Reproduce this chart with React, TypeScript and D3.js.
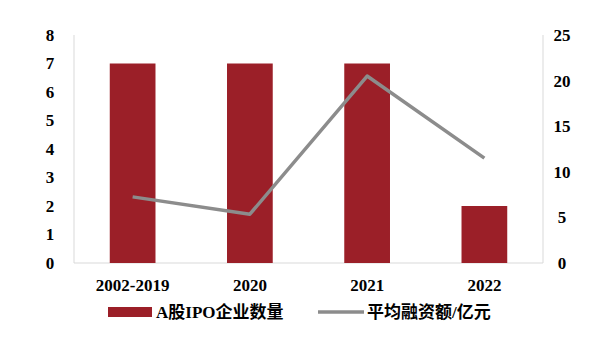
import React from 'react';
import * as d3 from 'd3';

const categories = ['2002-2019', '2020', '2021', '2022'];
const ipoCounts = [7, 7, 7, 2];
const avgFunding = [7.25, 5.35, 20.5, 11.5];
const leftTicks = [0, 1, 2, 3, 4, 5, 6, 7, 8];
const rightTicks = [0, 5, 10, 15, 20, 25];

const W = 606;
const H = 354;
const margin = { top: 35, right: 63, bottom: 91, left: 74 };
const BAR = '#9b1f28';
const LINE = '#8c8c8c';
const FONT = '"Liberation Serif", "Times New Roman", "Noto Sans CJK SC", serif';

export default function App() {
  const innerW = W - margin.left - margin.right;
  const innerH = H - margin.top - margin.bottom;

  const x = d3.scaleBand().domain(categories).range([0, innerW]).paddingInner(0.61).paddingOuter(0.305);
  const yL = d3.scaleLinear().domain([0, 8]).range([innerH, 0]);
  const yR = d3.scaleLinear().domain([0, 25]).range([innerH, 0]);
  const cx = (c: string) => (x(c) ?? 0) + x.bandwidth() / 2;

  const line = d3.line<number>()
    .x((_, i) => cx(categories[i]))
    .y(d => yR(d));

  return (
    <svg width={W} height={H} style={{ position: 'absolute', left: 0, top: 0, background: '#fff' }} fontFamily={FONT}>
      <g transform={`translate(${margin.left},${margin.top})`}>
        <line x1={0} x2={0} y1={0} y2={innerH} stroke="#d9d9d9" />
        <line x1={innerW} x2={innerW} y1={0} y2={innerH} stroke="#d9d9d9" />
        <line x1={0} x2={innerW} y1={innerH} y2={innerH} stroke="#d9d9d9" />

        {categories.map((c, i) => (
          <rect key={c} x={x(c)} y={yL(ipoCounts[i])} width={x.bandwidth()} height={innerH - yL(ipoCounts[i])} fill={BAR} />
        ))}

        <path d={line(avgFunding) ?? ''} fill="none" stroke={LINE} strokeWidth={3.5} strokeLinejoin="round" />

        {leftTicks.map(t => (
          <text key={t} x={-24} y={yL(t)} dy="0.35em" textAnchor="middle" fontSize={17} fontWeight="bold">{t}</text>
        ))}
        {rightTicks.map(t => (
          <text key={t} x={innerW + 19} y={yR(t)} dy="0.35em" textAnchor="middle" fontSize={17} fontWeight="bold">{t}</text>
        ))}
        {categories.map(c => (
          <text key={c} x={cx(c)} y={innerH + 28} textAnchor="middle" fontSize={17} fontWeight="bold">{c}</text>
        ))}
      </g>

      <g transform="translate(108,312)">
        <rect x={0} y={-5} width={44} height={10} fill={BAR} />
        <text x={48} y={6} fontSize={17} fontWeight="bold">A股IPO企业数量</text>
        <line x1={210} x2={256} y1={0} y2={0} stroke={LINE} strokeWidth={3.5} />
        <text x={259} y={6} fontSize={17} fontWeight="bold">平均融资额/亿元</text>
      </g>
    </svg>
  );
}
